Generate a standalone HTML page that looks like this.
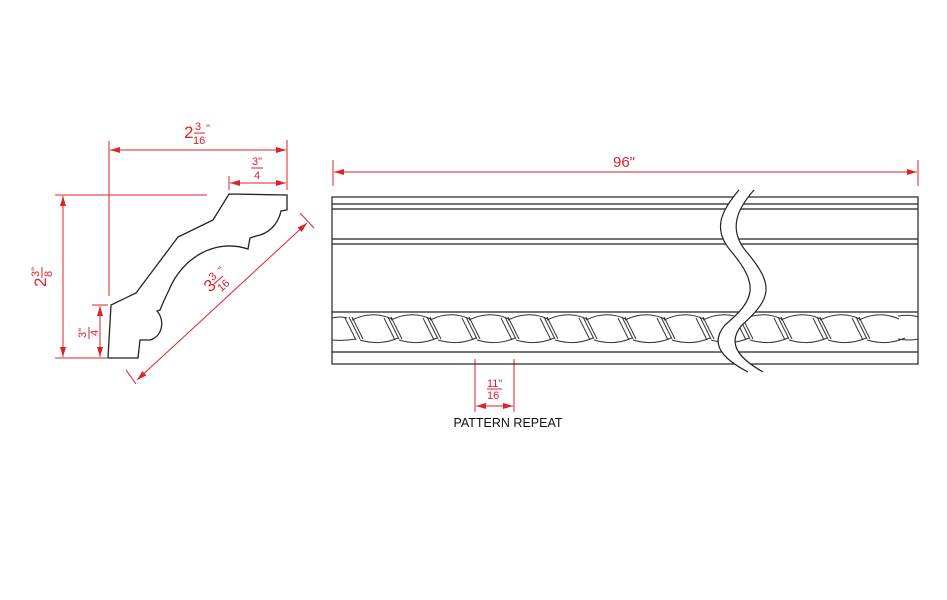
<!DOCTYPE html>
<html><head><meta charset="utf-8"><style>
html,body{margin:0;padding:0;background:#fff;}
svg{display:block;}
text{font-family:"Liberation Sans",Arial,sans-serif;}
</style></head><body>
<svg width="947" height="600" viewBox="0 0 947 600" xmlns="http://www.w3.org/2000/svg">
<defs>
<marker id="ar" viewBox="0 0 10 6" refX="10" refY="3" markerWidth="10" markerHeight="6" orient="auto-start-reverse" markerUnits="userSpaceOnUse"><path d="M0,0 L10,3 L0,6 z" fill="#e0202a"/></marker>
</defs>
<!-- profile -->
<path d="M229,194 L287,195 L287,210 L281,211 C278,225 268,234 256,236 L250,238 L248,249 C215,238 182,258 169,290 C165,298 162,305 160,310 L157,311 C165,320 163,336 150,340 L140,340 L138,358 L108,358 L111,305 L136,293 L178,237 L213,220 Z" fill="none" stroke="#222" stroke-width="1.3"/>
<g stroke="#e0202a" stroke-width="1" fill="none">
<line x1="109" y1="141" x2="109" y2="296"/>
<line x1="287" y1="140" x2="287" y2="190"/>
<line x1="110" y1="150" x2="286" y2="150" marker-start="url(#ar)" marker-end="url(#ar)"/>
<line x1="229" y1="176" x2="229" y2="190"/>
<line x1="230" y1="183" x2="286" y2="183" marker-start="url(#ar)" marker-end="url(#ar)"/>
<line x1="55" y1="195" x2="207" y2="195"/>
<line x1="55" y1="358" x2="107" y2="358"/>
<line x1="63" y1="196" x2="63" y2="357" marker-start="url(#ar)" marker-end="url(#ar)"/>
<line x1="92" y1="305" x2="108" y2="305"/>
<line x1="100" y1="306" x2="100" y2="357" marker-start="url(#ar)" marker-end="url(#ar)"/>
<line x1="137" y1="380" x2="307" y2="223" marker-start="url(#ar)" marker-end="url(#ar)"/>
<line x1="126" y1="370" x2="136" y2="384"/>
<line x1="300" y1="213" x2="314" y2="228"/>
<line x1="333" y1="160" x2="333" y2="186"/>
<line x1="918" y1="160" x2="918" y2="186"/>
<line x1="334" y1="172" x2="917" y2="172" marker-start="url(#ar)" marker-end="url(#ar)"/>
<line x1="475" y1="359" x2="475" y2="412"/>
<line x1="514" y1="359" x2="514" y2="412"/>
<line x1="476" y1="406" x2="513" y2="406" marker-start="url(#ar)" marker-end="url(#ar)"/>
<line x1="487" y1="389" x2="502" y2="389"/>
</g>
<g fill="#e0202a">
<text x="184" y="138" font-size="17">2</text>
<text x="195" y="130" font-size="11">3</text>
<line x1="194" y1="133" x2="205" y2="133" stroke="#e0202a"/>
<text x="193" y="144" font-size="11">16</text>
<text x="206" y="132" font-size="11">"</text>
<text x="252" y="165" font-size="11">3"</text>
<line x1="251" y1="168" x2="263" y2="168" stroke="#e0202a"/>
<text x="254" y="179" font-size="11">4</text>
<text x="624" y="167" font-size="15" text-anchor="middle">96"</text>
<text x="487" y="387" font-size="11">11"</text>
<text x="487" y="399" font-size="11">16</text>
<g transform="translate(46,287) rotate(-90)"><text x="0" y="0" font-size="17">2</text><text x="10" y="-7" font-size="11">3"</text><line x1="9" y1="-4" x2="20" y2="-4" stroke="#e0202a"/><text x="10" y="6" font-size="11">8</text></g>
<g transform="translate(88,332) rotate(-90)"><text x="-6" y="-2" font-size="11">3"</text><line x1="-7" y1="1" x2="5" y2="1" stroke="#e0202a"/><text x="-4" y="10" font-size="11">4</text></g>
<g transform="translate(210,293) rotate(-42)"><text x="0" y="0" font-size="17">3</text><text x="10" y="-7" font-size="11">3</text><line x1="9" y1="-4" x2="21" y2="-4" stroke="#e0202a"/><text x="9" y="7" font-size="11">16</text><text x="22" y="-6" font-size="11">"</text></g>
</g>
<text x="508" y="427" font-size="12.5" text-anchor="middle" fill="#111">PATTERN REPEAT</text>
<g stroke="#222" stroke-width="1.2" fill="none">
<rect x="332" y="197" width="586" height="167"/>
<line x1="332" y1="204" x2="918" y2="204"/>
<line x1="332" y1="209" x2="918" y2="209"/>
<line x1="332" y1="239" x2="918" y2="239"/>
<line x1="332" y1="244" x2="918" y2="244"/>
<line x1="332" y1="312" x2="918" y2="312"/>
<line x1="332" y1="352" x2="918" y2="352"/>
</g>
<g stroke="#333" stroke-width="1" fill="none">
<path d="M332,318 Q340,316 347,318 M332,340 Q345,341 356,339"/>
<g id="rp">
<path d="M352,320 Q372,310 392,319"/>
<path d="M360,340 Q380,346 398,338"/>
<line x1="345" y1="318" x2="356" y2="340"/>
<line x1="349" y1="317" x2="360" y2="339"/>
<line x1="352" y1="317" x2="363" y2="339"/>
</g>
<use href="#rp" x="39"/><use href="#rp" x="78"/><use href="#rp" x="117"/><use href="#rp" x="156"/><use href="#rp" x="195"/><use href="#rp" x="234"/><use href="#rp" x="273"/><use href="#rp" x="312"/><use href="#rp" x="351"/><use href="#rp" x="390"/><use href="#rp" x="429"/><use href="#rp" x="468"/><use href="#rp" x="507"/>
<path d="M898,316 Q910,314 918,317 M898,339 Q910,341 918,339"/>
</g>
<path d="M739,190 C722,210 712,228 730,250 C760,285 755,300 725,325 C708,345 725,360 748,372 L763,372 C742,360 725,345 742,325 C772,298 775,285 745,250 C728,228 738,208 754,190 Z" fill="#fff" stroke="none"/>
<path d="M739,190 C722,210 712,228 730,250 C760,285 755,300 725,325 C708,345 725,360 748,372" fill="none" stroke="#222" stroke-width="1.2"/>
<path d="M754,190 C738,208 728,228 745,250 C775,285 772,298 742,325 C725,345 742,360 763,372" fill="none" stroke="#222" stroke-width="1.2"/>
</svg>
</body></html>
